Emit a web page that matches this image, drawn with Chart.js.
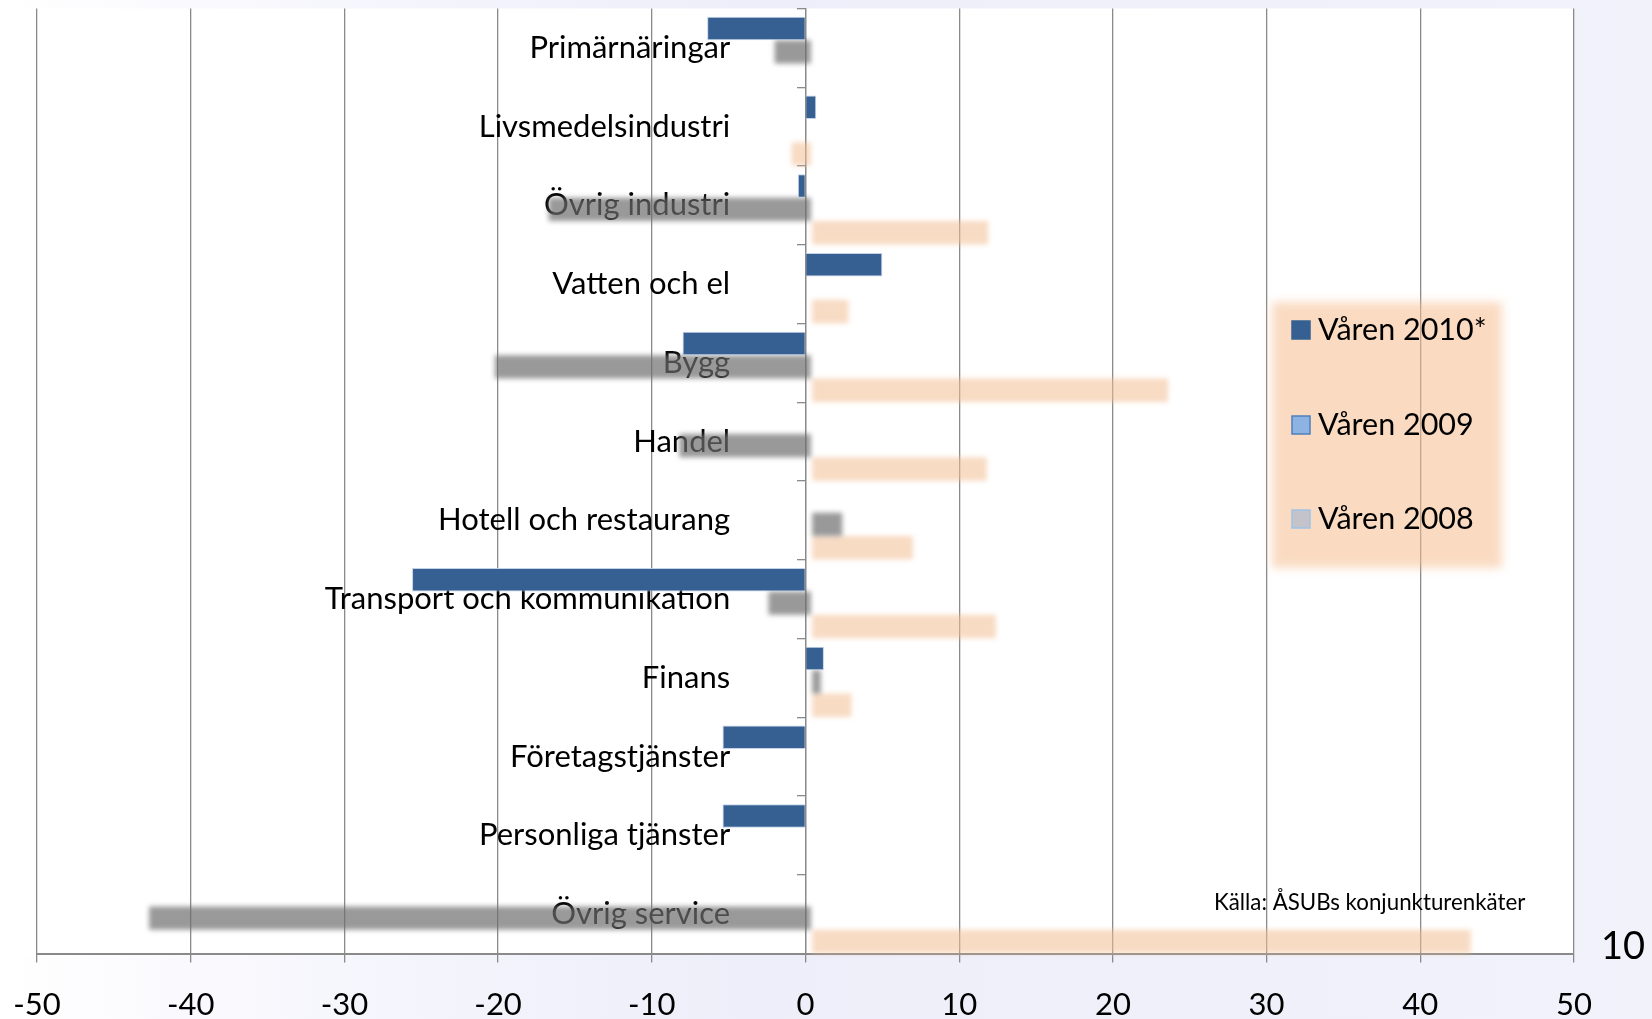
<!DOCTYPE html>
<html>
<head>
<meta charset="utf-8">
<script src="https://cdn.jsdelivr.net/npm/chart.js@4.4.1/dist/chart.umd.min.js"></script>
<style>
  html, body { margin: 0; padding: 0; background: #f3f3fc; }
  canvas { display: block; }
</style>
</head>
<body>
<canvas id="branschChart" width="1652" height="1019"></canvas>
<script>
// Branscher
const categories = [
  "Primärnäringar", "Livsmedelsindustri", "Övrig industri", "Vatten och el",
  "Bygg", "Handel", "Hotell och restaurang", "Transport och kommunikation",
  "Finans", "Företagstjänster", "Personliga tjänster", "Övrig service"
];
const seriesNames = ["Våren 2010*", "Våren 2009", "Våren 2008"];

// Saldotal per bransch
const spring2010 = [-6.4, 0.7, -0.5, 5.0, -8.0, 0, 0, -25.6, 1.2, -5.4, -5.4, 0];
const spring2009 = [-2.4, 0, -17.1, 0, -20.6, -8.6, 2.0, -2.8, 0.6, 0, 0, -43.1];
const spring2008 = [0, -1.3, 11.5, 2.4, 23.2, 11.4, 6.6, 12.0, 2.6, 0, 0, 42.9];

const xTicks = [-50, -40, -30, -20, -10, 0, 10, 20, 30, 40, 50];

const barColors = ["#366092", "rgba(110,110,110,0.7)", "rgba(242,190,145,0.55)"];
const legendColors = [
  { fill: "#366092", stroke: "#366092" },
  { fill: "#8db3e2", stroke: "#4f81bd" },
  { fill: "#c3c3c9", stroke: "#9dc3e6" }
];

const labelFont = "Lato, 'Open Sans', sans-serif";

// slide background with white plot area
const background = {
  id: "background",
  beforeDraw(chart) {
    const { ctx, width, height, chartArea } = chart;
    const g = ctx.createLinearGradient(0, 0, width, 0);
    g.addColorStop(0, "#ffffff");
    g.addColorStop(0.2, "#f6f6fd");
    g.addColorStop(0.45, "#eeeefa");
    g.addColorStop(1, "#f2f2fb");
    ctx.save();
    ctx.fillStyle = g;
    ctx.fillRect(0, 0, width, height);
    ctx.fillStyle = "#ffffff";
    ctx.fillRect(0, chartArea.top, chartArea.right, chartArea.bottom - chartArea.top);
    ctx.restore();
  }
};

// offset + soft edges for the two older series
const barEffects = [
  { dx: 0, dy: 4, blur: 0 },
  { dx: 6, dy: 4, blur: 2.5 },
  { dx: 6, dy: 4, blur: 2.5 }
];
const softBars = {
  id: "softBars",
  beforeDatasetDraw(chart, args) {
    const fx = barEffects[args.index];
    chart.ctx.save();
    chart.ctx.translate(fx.dx, fx.dy);
    if (fx.blur) chart.ctx.filter = `blur(${fx.blur}px)`;
  },
  afterDatasetDraw(chart) {
    chart.ctx.restore();
  }
};

// legend box, source note and page number
const extras = {
  id: "extras",
  afterDraw(chart) {
    const { ctx } = chart;
    ctx.save();
    ctx.filter = "blur(5px)";
    ctx.fillStyle = "rgba(246,190,143,0.55)";
    ctx.fillRect(1272, 302, 230, 266);
    ctx.filter = "none";

    const rowY = [330, 425, 519];
    ctx.font = `30.5px ${labelFont}`;
    ctx.textBaseline = "middle";
    ctx.textAlign = "left";
    seriesNames.forEach((name, i) => {
      const c = legendColors[i];
      ctx.fillStyle = c.fill;
      ctx.fillRect(1292, rowY[i] - 9, 18, 18);
      ctx.strokeStyle = c.stroke;
      ctx.lineWidth = 1.5;
      ctx.strokeRect(1292, rowY[i] - 9, 18, 18);
      ctx.fillStyle = "#000";
      ctx.fillText(name, 1318, rowY[i]);
    });

    ctx.font = `22.3px ${labelFont}`;
    ctx.fillText("Källa: ÅSUBs konjunkturenkäter", 1214, 903);

    ctx.font = `38px ${labelFont}`;
    ctx.fillText("10", 1601, 947);
    ctx.restore();
  }
};

const noVerticalPadding = (scale) => { scale.paddingTop = 0; scale.paddingBottom = 0; };

const ctx = document.getElementById("branschChart").getContext("2d");
const branschChart = new Chart(ctx, {
  type: "bar",
  data: {
    labels: categories,
    datasets: [
      { label: seriesNames[0], data: spring2010, backgroundColor: barColors[0],
        borderColor: "rgba(190,205,228,0.9)", borderWidth: 1 },
      { label: seriesNames[1], data: spring2009, backgroundColor: barColors[1], borderWidth: 0 },
      { label: seriesNames[2], data: spring2008, backgroundColor: barColors[2], borderWidth: 0 }
    ]
  },
  options: {
    indexAxis: "y",
    responsive: false,
    animation: false,
    devicePixelRatio: 1,
    categoryPercentage: 0.89,
    barPercentage: 1,
    layout: { padding: { left: 37, right: 78, top: 8.5, bottom: 0 } },
    plugins: {
      legend: { display: false },
      tooltip: { enabled: false }
    },
    scales: {
      x: {
        min: -50,
        max: 50,
        afterBuildTicks: (scale) => { scale.ticks = xTicks.map(v => ({ value: v })); },
        afterFit: (scale) => {
          scale.height = 65.5;
          scale.paddingLeft = 0;
          scale.paddingRight = 0;
        },
        ticks: { color: "#000", font: { family: labelFont, size: 31 }, padding: 24 },
        grid: { color: "#8a8a8a", lineWidth: 1.3, tickLength: 9 },
        border: { color: "#8a8a8a", width: 2 }
      },
      // category names, right-aligned a bit left of the zero line
      y: {
        position: { x: -4.9 },
        z: 1,
        afterFit: noVerticalPadding,
        ticks: { color: "#000", font: { family: labelFont, size: 31 }, padding: 0, autoSkip: false },
        grid: { display: false },
        border: { display: false }
      },
      // the category axis line with its tick marks at zero
      yAxisLine: {
        axis: "y",
        type: "category",
        position: { x: 0 },
        offset: true,
        afterFit: noVerticalPadding,
        ticks: { display: false },
        grid: { drawOnChartArea: false, color: "#8a8a8a", lineWidth: 1.3, tickLength: 8, offset: true },
        border: { color: "#8a8a8a", width: 1.3 }
      }
    }
  },
  plugins: [background, softBars, extras]
});
</script>
</body>
</html>
